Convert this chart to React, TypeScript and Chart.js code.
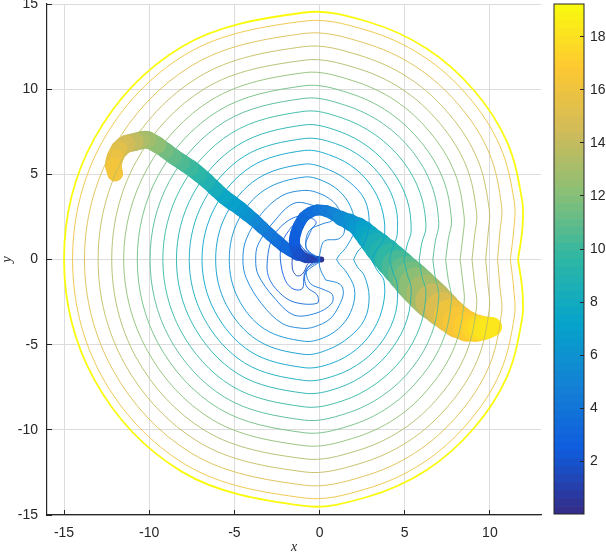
import { useEffect, useRef } from "react"
import { Chart, registerables } from "chart.js"

Chart.register(...registerables)

const xTickStep = 5
const yTickStep = 5
const colorbarTickStep = 2

// parula stops, evenly spaced from the bottom of the colorbar to the top
const parulaStops = [
  [53, 42, 135],
  [15, 92, 221],
  [20, 129, 214],
  [6, 164, 202],
  [46, 183, 164],
  [135, 191, 119],
  [209, 187, 89],
  [254, 200, 50],
  [249, 251, 14],
]
const colorMin = 0.02
const colorMax = 19.23
const colorbarStripes = 64

// outer contours, read as radius around (contourCenterX, 0) at each angle
const contourCenterX = -0.9
const contourAngles = [0, 8, 15, 30, 45, 60, 75, 90, 120, 150, 180, 210, 240, 270, 285, 300, 315, 330, 345, 352]
const contourLevels = [19.2, 16, 15, 14, 13.2, 12.3, 11.4, 10.6, 9.8, 8.9, 8.1, 7.3, 6.5, 5.7]
const contourRadii = [
  [12.55, 12.93, 13.25, 13.76, 14.07, 14.32, 14.45, 14.5, 14.41, 14.22, 14.1, 14.2, 14.38, 14.47, 14.42, 14.3, 14.05, 13.75, 13.25, 12.93],
  [12.1, 12.42, 12.78, 13.28, 13.58, 13.83, 13.95, 14.0, 13.91, 13.72, 13.6, 13.72, 13.91, 14.0, 13.95, 13.83, 13.58, 13.28, 12.78, 12.42],
  [11.35, 11.6, 12.0, 12.53, 12.83, 13.08, 13.2, 13.27, 13.16, 12.97, 12.9, 12.97, 13.16, 13.25, 13.2, 13.08, 12.83, 12.53, 12.0, 11.6],
  [10.65, 10.9, 11.25, 11.75, 12.05, 12.3, 12.42, 12.5, 12.38, 12.19, 12.1, 12.19, 12.38, 12.47, 12.42, 12.3, 12.05, 11.75, 11.25, 10.9],
  [9.85, 10.1, 10.48, 10.98, 11.28, 11.53, 11.65, 11.7, 11.61, 11.42, 11.3, 11.42, 11.61, 11.7, 11.65, 11.53, 11.28, 10.98, 10.48, 10.1],
  [9.15, 9.4, 9.72, 10.2, 10.5, 10.75, 10.88, 10.97, 10.84, 10.65, 10.6, 10.65, 10.84, 10.93, 10.88, 10.76, 10.5, 10.2, 9.72, 9.4],
  [8.3, 8.54, 8.95, 9.42, 9.72, 9.97, 10.12, 10.2, 10.08, 9.89, 9.8, 9.89, 10.08, 10.17, 10.12, 9.98, 9.72, 9.42, 8.95, 8.54],
  [7.55, 7.77, 8.18, 8.65, 8.98, 9.22, 9.37, 9.46, 9.34, 9.15, 9.05, 9.15, 9.34, 9.43, 9.37, 9.22, 8.98, 8.65, 8.18, 7.77],
  [6.75, 6.97, 7.4, 7.85, 8.18, 8.42, 8.6, 8.7, 8.56, 8.37, 8.3, 8.37, 8.56, 8.65, 8.6, 8.42, 8.18, 7.85, 7.4, 6.97],
  [5.85, 6.1, 6.5, 6.98, 7.33, 7.6, 7.8, 7.9, 7.76, 7.57, 7.5, 7.57, 7.76, 7.85, 7.8, 7.6, 7.33, 6.98, 6.5, 6.1],
  [5.0, 5.25, 5.65, 6.2, 6.6, 6.88, 7.05, 7.1, 7.01, 6.82, 6.75, 6.82, 7.01, 7.1, 7.05, 6.88, 6.6, 6.2, 5.65, 5.25],
  [3.95, 4.3, 4.85, 5.35, 5.78, 6.1, 6.3, 6.4, 6.28, 6.07, 6.0, 6.07, 6.26, 6.35, 6.3, 6.1, 5.78, 5.35, 4.85, 4.3],
  [2.9, 3.15, 3.65, 4.4, 5.0, 5.27, 5.47, 5.6, 5.48, 5.29, 5.2, 5.29, 5.48, 5.57, 5.47, 5.27, 5.0, 4.4, 3.65, 3.15],
  [1.9, 2.1, 2.5, 3.4, 4.0, 4.45, 4.72, 4.84, 4.7, 4.5, 4.4, 4.5, 4.7, 4.8, 4.72, 4.45, 4.0, 3.4, 2.5, 2.1],
]

// inner lobed contours around the core, read as x/y
const innerLevels = [4.8, 4, 3.2, 2.4, 1.5]
const innerX = [
  [0.35, 1.2, 1.4, 1.15, 0.6, -0.3, -1, -2.2, -3.4, -4.3, -4.5, -4.3, -3.4, -2.2, -1, -0.2, 0.8, 1.35, 1.45, 1.1, 0.3, 0.05, 0.0, 0.35],
  [0.05, -0.75, -0.55, 0.2, 0.75, 0.7, -0.2, -1.5, -2.7, -3.6, -3.75, -3.6, -2.7, -1.5, -0.3, 0.5, 0.75, 0.2, -0.6, -0.78, -0.1],
  [0.05, -0.82, -0.75, -0.14, -0.14, -1.5, -2.4, -3.0, -3.06, -2.8, -2.2, -1.4, -0.7, -0.2, -0.5, -0.8, 0],
  [0, -0.6, -0.9, -1.0, -1.5, -2.0, -2.3, -2.2, -1.8, -1.5, -1.2, -0.8, 0],
  [0, -0.6, -1.0, -1.35, -1.6, -1.5, -1.1, -0.5, 0],
]
const innerY = [
  [-1.2, -1.45, -1.95, -2.7, -3.5, -3.95, -4.04, -3.75, -2.6, -1.1, 0, 1.2, 2.7, 3.75, 4.05, 3.95, 3.4, 2.5, 1.6, 1.2, 1.1, 0.5, -0.4, -1.2],
  [-0.05, -0.6, -1.4, -1.75, -2.05, -2.6, -3.15, -3.26, -2.2, -0.9, 0, 0.9, 2.2, 3.3, 3.15, 2.7, 2.3, 2.1, 1.7, 0.7, 0.05],
  [-0.1, -0.8, -1.6, -2.08, -2.57, -2.5, -1.9, -1.0, 0, 1.2, 2.0, 2.5, 2.5, 2.2, 1.7, 0.7, 0.05],
  [-0.02, -0.35, -0.9, -1.7, -1.75, -1.25, 0, 1.0, 1.7, 2.0, 1.0, 0.5, 0.02],
  [0, -0.15, -0.85, -0.95, -0.5, 0.4, 0.6, 0.25, 0.02],
]

// the thick band, from the core out along each arm
const rightArmX = [0.1, -0.2, -0.5, -0.8, -1.05, -1.28, -1.42, -1.48, -1.4, -1.22, -0.92, -0.55, -0.14, 0.35, 0.8, 1.23, 1.76, 2.28, 2.58, 2.87, 3.16, 3.46, 3.84, 4.22, 4.63, 5.04, 5.39, 5.74, 6.2, 6.68, 7.2, 7.67, 8.14, 8.67, 9.14, 9.4, 9.6, 9.87, 10.13]
const rightArmY = [0, 0.01, 0.03, 0.08, 0.2, 0.42, 0.7, 1.1, 1.54, 2.02, 2.5, 2.77, 2.9, 2.85, 2.68, 2.44, 2.2, 1.91, 1.63, 1.32, 1.03, 0.73, 0.35, -0.03, -0.44, -0.85, -1.2, -1.55, -2, -2.45, -2.9, -3.3, -3.65, -3.92, -4.02, -4.03, -4.02, -4, -3.96]
const rightArmValue = [0.3, 0.5, 0.7, 1, 1.3, 1.6, 1.9, 2.15, 2.4, 2.7, 3, 3.3, 3.6, 4, 4.5, 5, 5.5, 6, 6.5, 7, 7.5, 8, 8.5, 9, 9.6, 10.3, 10.9, 11.5, 12.2, 13, 14, 15, 16, 16.5, 17, 17.4, 17.8, 18.1, 18.3]
const rightArmWidth = [5, 6, 7, 8.5, 10, 10.5, 11, 11, 11, 11, 11, 11, 11, 11, 12, 13, 15, 17, 19.5, 22, 24, 26, 28.5, 31, 32.5, 34, 35.5, 37, 37.5, 38, 36, 34, 33, 31, 28, 26, 24, 22, 20]

const leftArmX = [-1.05, -1.3, -1.7, -2.08, -2.47, -2.87, -3.36, -3.85, -4.24, -4.63, -5.1, -5.6, -6.07, -6.55, -7.05, -7.55, -8.05, -8.55, -9.02, -9.5, -10.1, -10.5, -10.85, -11.35, -11.75, -12, -12.1, -12]
const leftArmY = [0.2, 0.25, 0.5, 0.75, 1.08, 1.43, 1.87, 2.32, 2.64, 2.96, 3.3, 3.67, 4.1, 4.55, 4.97, 5.37, 5.7, 6.03, 6.38, 6.72, 7.02, 7.0, 6.9, 6.78, 6.45, 6.0, 5.5, 5.05]
const leftArmValue = [1.3, 1.5, 2.2, 3, 3.35, 3.7, 4.25, 4.8, 5.4, 6, 6.5, 7, 7.6, 8.2, 8.85, 9.5, 10, 10.5, 11, 11.5, 12.3, 12.8, 13.2, 13.9, 14.6, 15.3, 15.8, 16.2]
const leftArmWidth = [10, 10, 11, 11.5, 12, 12, 12.5, 13, 13.5, 14, 14.5, 15, 15, 15, 15.5, 16, 16, 16, 16, 16, 17, 18, 18, 18, 18, 17, 17, 16]

const axisColor = "#262626"
const gridColor = "#dcdcdc"
const tickFont = { family: "'Liberation Sans', Arial, sans-serif", size: 14 }
const titleFont = { family: "'Liberation Serif', serif", size: 14, style: "italic" as const, lineHeight: 1 }

function parula(value: number) {
  const t = Math.min(Math.max((value - colorMin) / (colorMax - colorMin), 0), 1) * (parulaStops.length - 1)
  const i = Math.min(Math.floor(t), parulaStops.length - 2)
  const f = t - i
  const c = parulaStops[i].map((v, k) => Math.round(v + (parulaStops[i + 1][k] - v) * f))
  return `rgb(${c[0]}, ${c[1]}, ${c[2]})`
}

function armDataset(xs: number[], ys: number[], values: number[], widths: number[]) {
  return {
    data: xs.map((x, i) => ({ x, y: ys[i] })),
    showLine: true,
    pointRadius: 0,
    tension: 0.3,
    borderCapStyle: "round" as const,
    borderColor: parula(values[0]),
    borderWidth: widths[0],
    segment: {
      borderColor: (ctx: any) => parula(values[ctx.p1DataIndex]),
      borderWidth: (ctx: any) => widths[ctx.p1DataIndex],
    },
  }
}

function contourDataset(points: { x: number; y: number }[], level: number, width: number) {
  return {
    data: points,
    showLine: true,
    pointRadius: 0,
    tension: 0.35,
    borderColor: parula(level),
    borderWidth: width,
  }
}

// fixes the box of the plot, tick labels may overflow it
const noScalePadding = (scale: any) => {
  scale.paddingTop = 0
  scale.paddingBottom = 0
  scale.paddingLeft = 0
  scale.paddingRight = 0
}

export default function App() {
  const mainRef = useRef<HTMLCanvasElement>(null)
  const barRef = useRef<HTMLCanvasElement>(null)

  useEffect(() => {
    if (!mainRef.current || !barRef.current) return

    const outerContours = contourRadii.map((radii, i) => {
      const points = radii.map((r, k) => ({
        x: contourCenterX + r * Math.cos((contourAngles[k] * Math.PI) / 180),
        y: r * Math.sin((contourAngles[k] * Math.PI) / 180),
      }))
      points.push(points[0])
      return contourDataset(points, contourLevels[i], i === 0 ? 1.8 : 0.9)
    })
    const innerContours = innerX.map((xs, i) =>
      contourDataset(
        xs.map((x, k) => ({ x, y: innerY[i][k] })),
        innerLevels[i],
        0.9
      )
    )

    const main = new Chart(mainRef.current, {
      type: "scatter",
      data: {
        datasets: [
          ...outerContours,
          ...innerContours,
          armDataset(rightArmX, rightArmY, rightArmValue, rightArmWidth),
          armDataset(leftArmX, leftArmY, leftArmValue, leftArmWidth),
        ] as any,
      },
      options: {
        responsive: false,
        animation: false,
        layout: { padding: { left: 0, top: 4, right: 65, bottom: 0 } },
        plugins: { legend: { display: false }, tooltip: { enabled: false } },
        scales: {
          x: {
            type: "linear",
            min: -16,
            max: 13,
            afterFit: (scale: any) => {
              scale.height = 39
              noScalePadding(scale)
            },
            border: { color: axisColor, width: 1.2 },
            grid: { color: gridColor, tickColor: axisColor, tickLength: -5, lineWidth: 1 },
            ticks: { stepSize: xTickStep, includeBounds: false, color: axisColor, font: tickFont, padding: 15, maxRotation: 0 },
            title: { display: true, text: "x", color: axisColor, font: titleFont, padding: 0 },
          },
          y: {
            type: "linear",
            min: -15,
            max: 15,
            afterFit: (scale: any) => {
              scale.width = 47
              noScalePadding(scale)
            },
            border: { color: axisColor, width: 1.2 },
            grid: { color: gridColor, tickColor: axisColor, tickLength: -5, lineWidth: 1 },
            ticks: { stepSize: yTickStep, includeBounds: false, color: axisColor, font: tickFont, padding: 14 },
            title: { display: true, text: "y", color: axisColor, font: titleFont, padding: 0 },
          },
        },
      },
    })

    const stripe = (colorMax - 0) / colorbarStripes
    const stripes = Array.from({ length: colorbarStripes }, (_, i) => ({
      data: [stripe],
      backgroundColor: parula((i + 0.5) * stripe),
      borderWidth: 0,
      categoryPercentage: 1,
      barPercentage: 1,
      stack: "colorbar",
    }))

    const colorbar = new Chart(barRef.current, {
      type: "bar",
      data: { labels: [""], datasets: stripes },
      options: {
        responsive: false,
        animation: false,
        layout: { padding: { left: 554, top: 4, right: 0, bottom: 40 } },
        plugins: { legend: { display: false }, tooltip: { enabled: false } },
        scales: {
          x: { stacked: true, display: false },
          y: {
            stacked: true,
            position: "right",
            min: colorMin,
            max: colorMax,
            afterFit: (scale: any) => {
              scale.width = 22
              noScalePadding(scale)
            },
            border: { display: false },
            grid: { drawOnChartArea: false, tickColor: axisColor, tickLength: -4, z: 1 },
            ticks: { stepSize: colorbarTickStep, includeBounds: false, color: axisColor, font: tickFont, padding: 10 },
          },
        },
      },
      plugins: [
        {
          id: "colorbarBox",
          afterDraw: (chart: any) => {
            const { left, top, right, bottom } = chart.chartArea
            const ctx = chart.ctx
            ctx.save()
            ctx.strokeStyle = axisColor
            ctx.lineWidth = 1
            ctx.strokeRect(left, top, right - left, bottom - top)
            ctx.restore()
          },
        },
      ],
    })

    return () => {
      main.destroy()
      colorbar.destroy()
    }
  }, [])

  const canvasStyle = { position: "absolute", left: 0, top: 0 } as const

  return (
    <div style={{ position: "absolute", left: 0, top: 0, width: 606, height: 554, background: "#fff" }}>
      <canvas ref={mainRef} width={606} height={554} style={canvasStyle}></canvas>
      <canvas ref={barRef} width={606} height={554} style={canvasStyle}></canvas>
    </div>
  )
}
